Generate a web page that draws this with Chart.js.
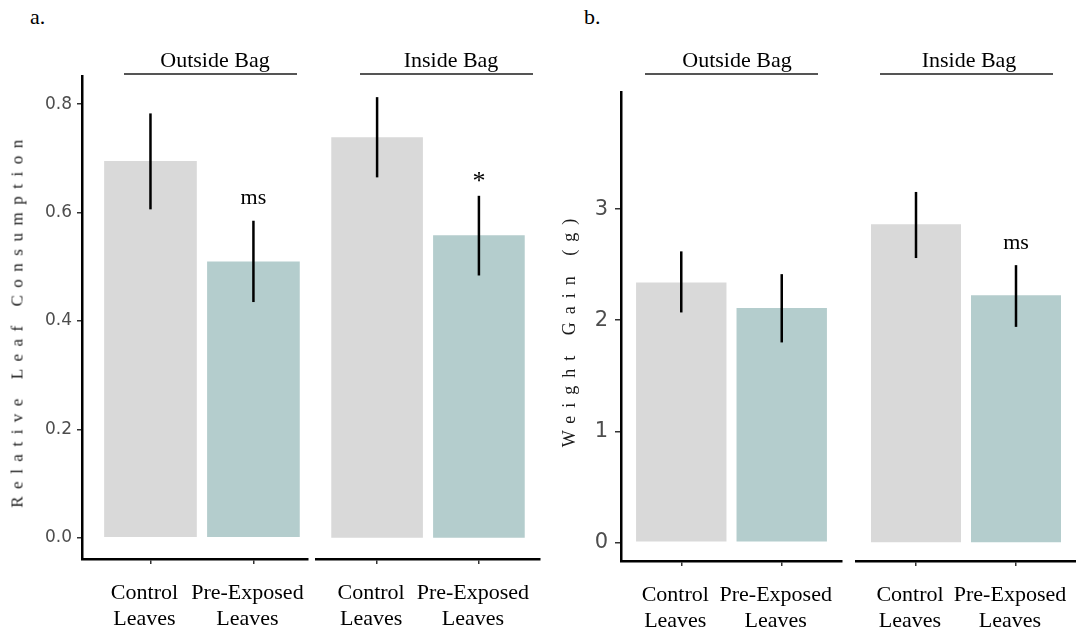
<!DOCTYPE html>
<html lang="en">
<head>
<meta charset="UTF-8">
<title>Leaf Consumption and Weight Gain</title>
<script src="https://cdn.jsdelivr.net/npm/chart.js"></script>
<style>
  html, body { margin: 0; padding: 0; background: #fff; overflow: hidden; }
  #wrap { position: relative; width: 1076px; height: 632px; overflow: hidden; }
  #wrap canvas { position: absolute; }
  .txt {
    position: absolute;
    font-family: "Liberation Serif", "Times New Roman", serif;
    color: #000;
    white-space: nowrap;
    line-height: 1;
    pointer-events: none;
  }
  .panel-tag { font-size: 22px; }
  .strip { font-size: 22px; transform: translateX(-50%); }
  .strip-line { position: absolute; height: 2px; background: #555; }
  .ytitle { color: #1a1a1a; transform: translate(-50%, -50%) rotate(-90deg); }
</style>
</head>
<body>
<div id="wrap">
  <div class="txt panel-tag" style="left:30px; top:6px;">a.</div>
  <div class="txt panel-tag" style="left:584px; top:6px;">b.</div>

  <div class="txt strip" style="left:215px; top:49px;">Outside Bag</div>
  <div class="strip-line" style="left:124px; top:73px; width:173px;"></div>
  <div class="txt strip" style="left:451px; top:49px;">Inside Bag</div>
  <div class="strip-line" style="left:360px; top:73px; width:173px;"></div>
  <div class="txt strip" style="left:737px; top:49px;">Outside Bag</div>
  <div class="strip-line" style="left:645px; top:73px; width:173px;"></div>
  <div class="txt strip" style="left:969px; top:49px;">Inside Bag</div>
  <div class="strip-line" style="left:880px; top:73px; width:173px;"></div>

  <div class="txt ytitle" style="left:17px; top:320px; font-size:17px; letter-spacing:7.5px;">Relative Leaf Consumption</div>
  <div class="txt ytitle" style="left:569px; top:329px; font-size:18px; letter-spacing:8px;">Weight Gain (g)</div>
</div>

<script>
// treatments on the x axis of every facet
const categories = [['Control', 'Leaves'], ['Pre-Exposed', 'Leaves']];
const barColors = ['#d9d9d9', '#b4cdcd'];

// panel a: relative leaf consumption
const consumptionTicks = [0, 0.2, 0.4, 0.6, 0.8];
const consumptionOutside = [0.695, 0.510];
const consumptionOutsideLow = [0.606, 0.435];
const consumptionOutsideHigh = [0.783, 0.585];
const consumptionOutsideMarks = ['', 'ms'];
const consumptionInside = [0.739, 0.558];
const consumptionInsideLow = [0.665, 0.484];
const consumptionInsideHigh = [0.813, 0.631];
const consumptionInsideMarks = ['', '*'];

// panel b: weight gain (g)
const weightTicks = [0, 1, 2, 3];
const weightOutside = [2.34, 2.11];
const weightOutsideLow = [2.07, 1.80];
const weightOutsideHigh = [2.62, 2.415];
const weightOutsideMarks = ['', ''];
const weightInside = [2.865, 2.226];
const weightInsideLow = [2.56, 1.94];
const weightInsideHigh = [3.155, 2.496];
const weightInsideMarks = ['', 'ms'];

const PAD = 14;   // layout padding round each canvas
const YW = 60;    // width reserved for the y axis
const XH = 75;    // height reserved for the x axis

// vertical error bars plus the significance label above them
const errorBars = {
  id: 'errorBars',
  afterDatasetsDraw(chart, args, opts) {
    const ctx = chart.ctx;
    const y = chart.scales.y;
    const bars = chart.getDatasetMeta(0).data;
    ctx.save();
    ctx.strokeStyle = '#000';
    ctx.lineWidth = 2.5;
    bars.forEach((bar, i) => {
      const top = y.getPixelForValue(opts.high[i]);
      const bottom = y.getPixelForValue(opts.low[i]);
      ctx.beginPath();
      ctx.moveTo(bar.x, top);
      ctx.lineTo(bar.x, bottom);
      ctx.stroke();

      const mark = opts.marks[i];
      if (mark) {
        ctx.fillStyle = '#000';
        ctx.textAlign = 'center';
        ctx.textBaseline = 'alphabetic';
        if (mark === '*') {
          ctx.font = '26px "Liberation Serif"';
          ctx.fillText(mark, bar.x, top - 7);
        } else {
          ctx.font = '22px "Liberation Serif"';
          ctx.fillText(mark, bar.x, top - 16.5);
        }
      }
    });
    ctx.restore();
  }
};

function facet(cfg) {
  const yw = cfg.showY ? YW : 0;
  const left = cfg.area.left - yw - PAD;
  const top = cfg.area.top - PAD;
  const w = cfg.area.right + PAD - left;
  const h = cfg.area.bottom + XH + PAD - top;

  const canvas = document.createElement('canvas');
  canvas.width = w;
  canvas.height = h;
  canvas.style.left = left + 'px';
  canvas.style.top = top + 'px';
  canvas.style.width = w + 'px';
  canvas.style.height = h + 'px';
  const wrap = document.getElementById('wrap');
  wrap.insertBefore(canvas, wrap.firstChild);

  const axisTicks = {
    display: true,
    drawOnChartArea: false,
    offset: false,
    tickLength: cfg.tickLength,
    color: '#333',
    lineWidth: 1.5
  };
  const axisBorder = { display: true, color: '#000', width: 2.5 };

  return new Chart(canvas.getContext('2d'), {
    type: 'bar',
    data: {
      datasets: [{
        data: cfg.values.map((v, i) => ({ x: i, y: v })),
        backgroundColor: barColors,
        borderWidth: 0,
        categoryPercentage: 0.9,
        barPercentage: 1
      }]
    },
    options: {
      responsive: false,
      animation: false,
      devicePixelRatio: 1,
      layout: { padding: PAD },
      plugins: {
        legend: { display: false },
        tooltip: { enabled: false },
        errorBars: { low: cfg.low, high: cfg.high, marks: cfg.marks }
      },
      scales: {
        x: {
          type: 'linear',
          bounds: 'data',
          min: cfg.xMin,
          max: cfg.xMax,
          offset: false,
          afterBuildTicks: s => { s.ticks = categories.map((c, i) => ({ value: i })); },
          afterFit: s => {
            s.height = XH;
            s.paddingLeft = 0;
            s.paddingRight = 0;
          },
          ticks: {
            callback: v => categories[v],
            maxRotation: 0,
            minRotation: 0,
            autoSkip: false,
            padding: 17,
            labelOffset: -6,
            color: '#000',
            font: { family: '"Liberation Serif"', size: 22, lineHeight: 1.15 }
          },
          grid: Object.assign({}, axisTicks, { tickLength: 5 }),
          border: axisBorder
        },
        y: {
          display: cfg.showY,
          bounds: 'data',
          min: cfg.yMin,
          max: cfg.yMax,
          afterBuildTicks: s => { s.ticks = cfg.ticks.map(v => ({ value: v })); },
          afterFit: s => {
            s.width = yw;
            s.paddingTop = 0;
            s.paddingBottom = 0;
          },
          ticks: {
            callback: cfg.tickFormat,
            color: '#4d4d4d',
            padding: cfg.tickPadding,
            font: { family: '"DejaVu Sans"', size: cfg.tickSize }
          },
          grid: axisTicks,
          border: axisBorder
        }
      }
    },
    plugins: [errorBars]
  });
}

const consumptionAxis = {
  yMin: -0.039, yMax: 0.852, ticks: consumptionTicks,
  tickFormat: v => v.toFixed(1), tickSize: 17, tickLength: 5, tickPadding: 5
};
const weightAxis = {
  yMin: -0.168, yMax: 4.055, ticks: weightTicks,
  tickFormat: v => String(v), tickSize: 21, tickLength: 6, tickPadding: 7
};

facet(Object.assign({}, consumptionAxis, {
  showY: true, area: { left: 82, right: 308, top: 76, bottom: 559 }, xMin: -0.665, xMax: 1.53,
  values: consumptionOutside, low: consumptionOutsideLow, high: consumptionOutsideHigh, marks: consumptionOutsideMarks
}));
facet(Object.assign({}, consumptionAxis, {
  showY: false, area: { left: 316, right: 540, top: 76, bottom: 559 }, xMin: -0.6, xMax: 1.6,
  values: consumptionInside, low: consumptionInsideLow, high: consumptionInsideHigh, marks: consumptionInsideMarks
}));
facet(Object.assign({}, weightAxis, {
  showY: true, area: { left: 621, right: 842, top: 92, bottom: 561 }, xMin: -0.6, xMax: 1.6,
  values: weightOutside, low: weightOutsideLow, high: weightOutsideHigh, marks: weightOutsideMarks
}));
facet(Object.assign({}, weightAxis, {
  showY: false, area: { left: 856, right: 1076, top: 92, bottom: 561 }, xMin: -0.6, xMax: 1.6,
  values: weightInside, low: weightInsideLow, high: weightInsideHigh, marks: weightInsideMarks
}));
</script>
</body>
</html>
